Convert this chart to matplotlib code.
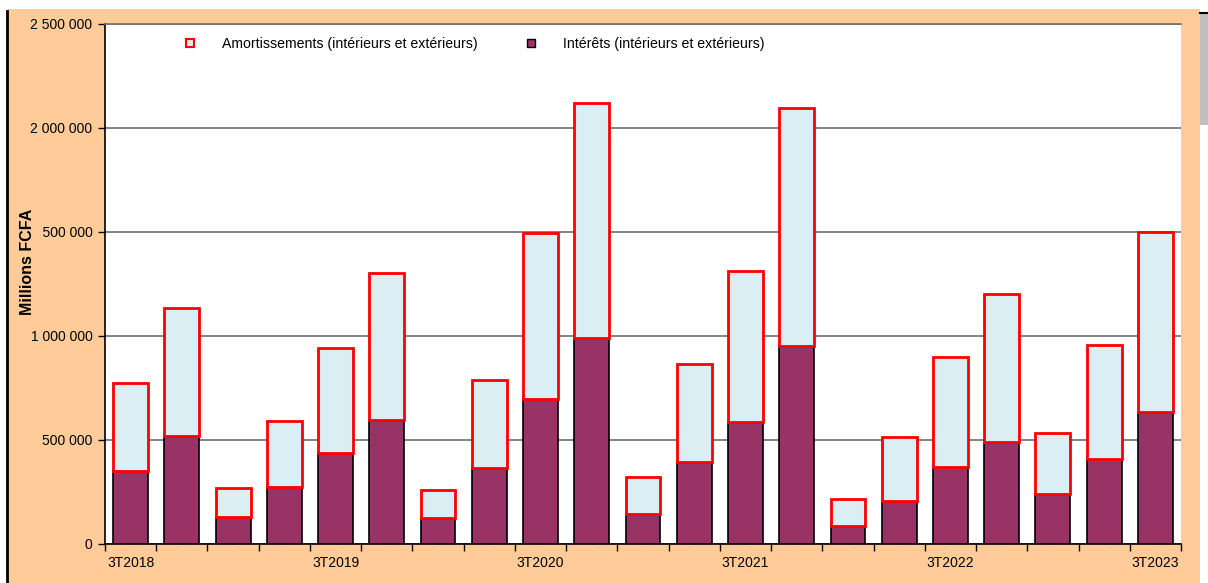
import matplotlib.pyplot as plt
import matplotlib.patches as mpatches
from matplotlib.lines import Line2D
import numpy as np

plt.rcParams['font.family'] = ['Liberation Sans', 'DejaVu Sans']

## Data (Millions FCFA), quarterly 3T2018 -> 3T2023
quarters = ['3T2018', '4T2018',
            '1T2019', '2T2019', '3T2019', '4T2019',
            '1T2020', '2T2020', '3T2020', '4T2020',
            '1T2021', '2T2021', '3T2021', '4T2021',
            '1T2022', '2T2022', '3T2022', '4T2022',
            '1T2023', '2T2023', '3T2023']
interets = [351000, 518000, 128000, 273000, 435000, 593000, 122000, 362000,
            694000, 988000, 144000, 393000, 587000, 950000, 85000, 205000,
            369000, 488000, 239000, 406000, 635000]
amortissements = [420000, 614000, 141000, 315000, 504000, 710000, 138000, 425000,
                  798000, 1129000, 177000, 469000, 724000, 1146000, 130000, 309000,
                  527000, 714000, 293000, 549000, 865000]

orange = '#FFCC99'
plum = '#993366'
lightblue = '#DAEEF3'

fig = plt.figure(figsize=(12.08, 5.83), dpi=100)
fig.patch.set_facecolor('white')

# orange chart area + left black border, grey strip at right
fig.patches.append(mpatches.Rectangle((8/1208, 0), 1192/1208, 1 - 9/583,
                                      transform=fig.transFigure, facecolor=orange,
                                      edgecolor='none', zorder=-10))
fig.add_artist(Line2D([7.5/1208, 7.5/1208], [0, 1 - 11/583], transform=fig.transFigure,
                      color='black', lw=2))
fig.patches.append(mpatches.Rectangle((1200/1208, 1 - 125/583), 8/1208, 112/583,
                                      transform=fig.transFigure, facecolor='#C0C0C0',
                                      edgecolor='none', zorder=-10))
fig.add_artist(Line2D([1200/1208, 1], [1 - 13/583, 1 - 13/583], transform=fig.transFigure,
                      color='black', lw=1.5))

ax = fig.add_axes([105/1208, 39.3/583, 1076/1208, 520/583])
ax.set_facecolor('white')

x = np.arange(len(quarters))
ax.bar(x, interets, width=0.68, color=plum, edgecolor='black', linewidth=1.2, zorder=3)
ax.bar(x, amortissements, bottom=interets, width=0.68, color=lightblue,
       edgecolor='red', linewidth=2, zorder=3)

ax.set_xlim(-0.5, len(quarters) - 0.5)
ax.set_ylim(0, 2500000)

yt = np.arange(0, 2500001, 500000)
ax.set_yticks(yt)
ax.set_yticklabels(['{:,}'.format(v).replace(',', ' ') for v in yt], fontsize=10)
ax.yaxis.grid(True, color='#707070', linewidth=1.2, zorder=0)
ax.tick_params(axis='y', direction='out', length=5, width=1, pad=4)

# major ticks at category boundaries, labels at centres (every 4th quarter)
ax.set_xticks(np.arange(-0.5, len(quarters), 1))
ax.set_xticklabels([])
ax.tick_params(axis='x', which='major', direction='out', length=5, width=1)
ax.set_xticks(x, minor=True)
ax.set_xticklabels([q if i % 4 == 0 else '' for i, q in enumerate(quarters)],
                   minor=True, fontsize=10)
ax.tick_params(axis='x', which='minor', direction='in', length=3, width=1, pad=9)

ax.spines['right'].set_visible(False)
ax.spines['top'].set_color('#707070')
ax.spines['top'].set_linewidth(1.2)
ax.spines['left'].set_linewidth(1.2)
ax.spines['bottom'].set_linewidth(1.2)

# y label sits over the tick labels, hiding the leading "1" like the original
fig.text(27.5/1208, 1 - 262/583, 'Millions FCFA', rotation=90, fontsize=11.5,
         fontweight='bold', ha='center', va='center',
         bbox=dict(facecolor=orange, edgecolor='none', pad=2.5))

handles = [Line2D([], [], ls='none', marker='s', markersize=6, markerfacecolor=lightblue,
                  markeredgecolor='red', markeredgewidth=1.5),
           Line2D([], [], ls='none', marker='s', markersize=6, markerfacecolor=plum,
                  markeredgecolor='black', markeredgewidth=1)]
ax.legend(handles, ['Amortissements (intérieurs et extérieurs)',
                    'Intérêts (intérieurs et extérieurs)'],
          ncol=2, frameon=False, fontsize=10.2, loc='upper left',
          bbox_to_anchor=(183/1208, 1 - 37/583), bbox_transform=fig.transFigure,
          borderpad=0, borderaxespad=0, handlelength=1.0,
          handletextpad=1.75, columnspacing=3.3)

fig.savefig('out.png', dpi=100)
